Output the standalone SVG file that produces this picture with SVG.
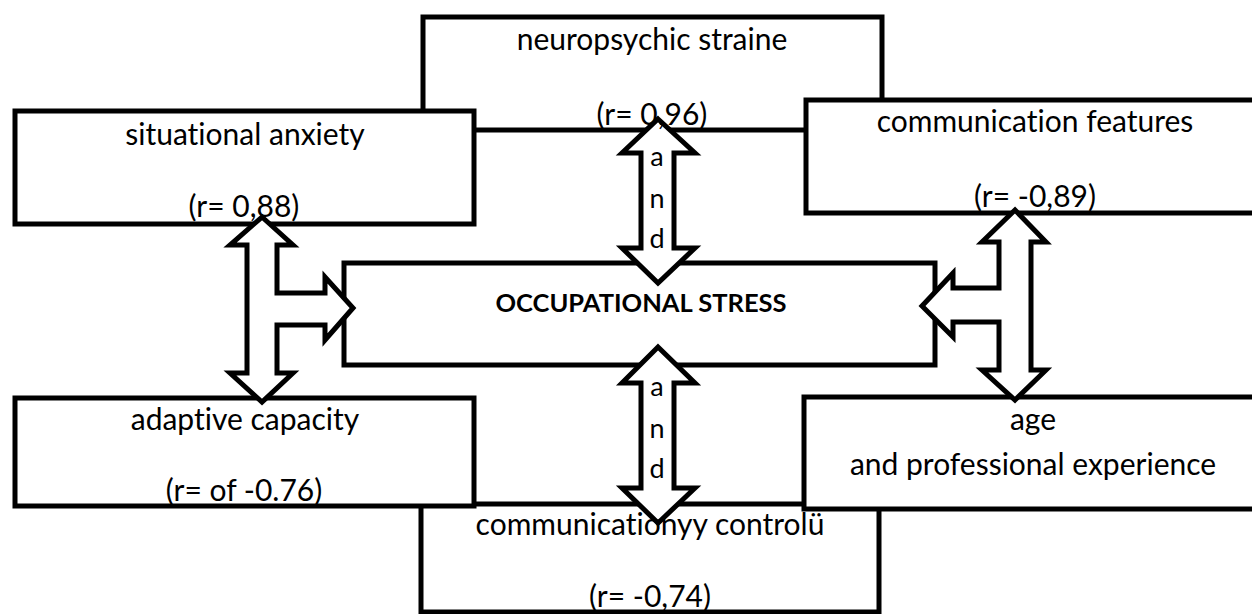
<svg xmlns="http://www.w3.org/2000/svg" width="1252" height="614" viewBox="0 0 1252 614">
<style>
.box{fill:#fff;stroke:#000;stroke-width:5}
.arrow{fill:#fff;stroke:#000;stroke-width:5;stroke-linejoin:miter;stroke-miterlimit:10}
text{font-family:Lato,"Liberation Sans",sans-serif;font-size:30px;fill:#000;text-anchor:middle;font-variant-ligatures:none}
.b{font-weight:bold;font-size:25.5px}
.and{font-size:27px}
</style>
<rect width="1252" height="614" fill="#fff"/>
<g id="node-neuropsychic-straine"><rect class="box" x="423" y="17" width="459" height="113"/></g>
<g id="node-communication-control"><rect class="box" x="421" y="504" width="458" height="108"/></g>
<g id="node-situational-anxiety"><rect class="box" x="15" y="111" width="459" height="113"/></g>
<g id="node-communication-features"><rect class="box" x="806" y="100" width="460" height="113"/></g>
<g id="node-adaptive-capacity"><rect class="box" x="15" y="398" width="459" height="108"/></g>
<g id="node-age-experience"><rect class="box" x="804" y="397" width="460" height="112"/></g>
<g id="node-occupational-stress"><rect class="box" x="344" y="263" width="591" height="102"/></g>
<g id="connectors">
<polygon class="arrow" points="262,217 293,245 277,245 277,293 325,293 325,277 353,308 325,340 325,325 277,325 277,373 293,373 262,402 230,373 247,373 247,245 230,245"/>
<polygon class="arrow" points="1015,210 1046,242 1031,242 1031,370 1046,370 1015,400 982,370 999,370 999,322 953,322 953,337 922,306 953,273 953,288 999,288 999,242 982,242"/>
<polygon class="arrow" points="658,119 695,153 674,153 674,248 695,248 658,283 622,248 641,248 641,153 622,153"/>
<polygon class="arrow" points="658,347 695,383 674,383 674,488 695,488 658,523 622,488 641,488 641,383 622,383"/>
</g>
<g id="labels">
<g id="label-neuropsychic-straine"><text x="652" y="50">neuropsychic straine</text><text x="652" y="125">(r= 0,96)</text></g>
<g id="label-situational-anxiety"><text x="245" y="145">situational anxiety</text><text x="244" y="217">(r= 0,88)</text></g>
<g id="label-communication-features"><text x="1035" y="132">communication features</text><text x="1035" y="207">(r= -0,89)</text></g>
<g id="label-occupational-stress"><text class="b" x="641" y="312">OCCUPATIONAL STRESS</text></g>
<g id="label-adaptive-capacity"><text x="245" y="430">adaptive capacity</text><text x="244" y="501">(r= of -0.76)</text></g>
<g id="label-age-experience"><text x="1033" y="430">age</text><text x="1033" y="475">and professional experience</text></g>
<g id="label-communication-control"><text x="650" y="535">communicationyy controlü</text><text x="650" y="607">(r= -0,74)</text></g>
<g id="label-and-upper"><text class="and" x="657" y="166">a</text><text class="and" x="657" y="208">n</text><text class="and" x="657" y="248">d</text></g>
<g id="label-and-lower"><text class="and" x="657" y="396">a</text><text class="and" x="657" y="438">n</text><text class="and" x="657" y="478">d</text></g>
</g>
</svg>
